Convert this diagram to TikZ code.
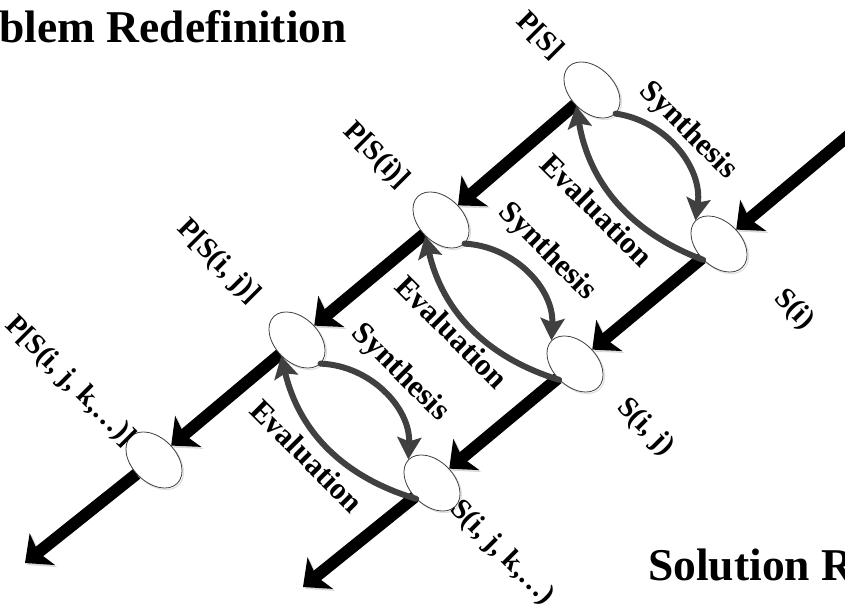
\documentclass[tikz,border=0pt]{standalone}
\usepackage{fontspec}
\setmainfont{Liberation Serif}
\usetikzlibrary{shapes.geometric,arrows.meta}

\begin{document}
\begin{tikzpicture}[x=1bp,y=-1bp,
  stagenode/.style={ellipse,draw=black!75,line width=0.8bp,fill=white,minimum width=66bp,minimum height=44bp,inner sep=0pt,rotate=-45,preaction={draw=black!12,line width=1.2bp,transform canvas={shift={(1.5bp,-1.5bp)}}}},
  tagtext/.style={font=\fontsize{29bp}{29bp}\selectfont\bfseries,rotate=-45,inner sep=0pt},
  flowtext/.style={tagtext,font=\fontsize{31bp}{31bp}\selectfont\bfseries},
  titletext/.style={font=\fontsize{45.5bp}{45.5bp}\selectfont\bfseries,inner sep=0pt},
  bigarrow/.style={line width=12bp,-{Stealth[length=22bp,width=40bp,inset=5bp]},preaction={draw=black!15,transform canvas={shift={(2bp,-2bp)}}}},
  flowarrow/.style={draw=arcgray,line width=6bp,line cap=round,-{Stealth[length=22bp,width=24bp,inset=4bp]}}]
\definecolor{arcgray}{HTML}{404040}
\useasboundingbox (0,0) rectangle (845,609);
\clip (0,0) rectangle (845,609);
\node[titletext,anchor=base east] (probtitle) at (347,43) {blem Redefinition};
\node[titletext,anchor=base west] (soltitle) at (648,580) {Solution R};
\foreach \nm/\x/\y in {ps/592/90,psi/441/220,psij/297/340,psijk/154/460,si/719/244,sij/575/364,sijk/432/483}
  {\node[stagenode] (\nm) at (\x,\y) {};}
\coordinate (entry) at (860,126);
\coordinate (pend) at (25,563);
\coordinate (send) at (303,587);
\foreach \a/\b in {entry/si,si/sij,sij/sijk,sijk/send,ps/psi,psi/psij,psij/psijk,psijk/pend}
  {\draw[bigarrow] (\a) -- (\b);}
\foreach \p/\s in {ps/si,psi/sij,psij/sijk}
  {\draw[flowarrow] (\p.east) to[bend left=45] (\s.west);
   \draw[flowarrow] (\s.south) to[bend left=30] (\p.south);}
\foreach \nm/\x/\y/\txt in {ps/540/36/{P[S]},psi/376/156/{P[S(i)]},psij/218/262/{P[S(i, j)]},psijk/70/382/{P[S(i, j, k,…)]},si/794/310/{S(i)},sij/645/427/{S(i, j)},sijk/502/553/{S(i, j, k,…)}}
  {\node[tagtext] (\nm-tag) at (\x,\y) {\txt};}
\foreach \nm/\x/\y/\txt in {syn1/688/131/Synthesis,syn2/547/252/Synthesis,syn3/400/373/Synthesis,eva1/597/210/Evaluation,eva2/452/332/Evaluation,eva3/307/456/Evaluation}
  {\node[flowtext] (\nm) at (\x,\y) {\txt};}
\end{tikzpicture}
\end{document}
